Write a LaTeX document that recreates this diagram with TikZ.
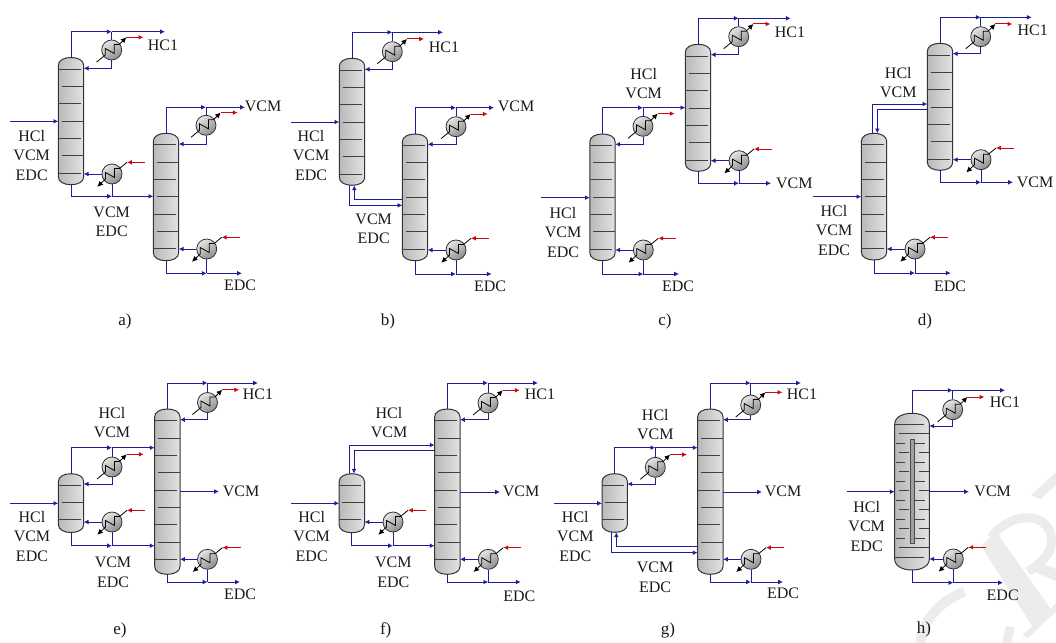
\documentclass[tikz,border=0pt]{standalone}
\usepackage{fontspec}
\setmainfont{Liberation Serif}
\usetikzlibrary{arrows.meta,calc}
\definecolor{strmblue}{RGB}{30,30,155}
\definecolor{hotred}{RGB}{200,10,20}
\definecolor{wm}{RGB}{236,236,236}
\newcounter{lblc}
\tikzset{
  strm/.style={draw=strmblue,line width=1pt},
  tipped/.style={-{Latex[length=4.8pt,width=4.8pt]}},
  redl/.style={draw=hotred,line width=1pt,-{Latex[length=4.8pt,width=4.8pt]}},
  blk/.style={draw=black,line width=0.8pt},
  hx/.style={circle,draw=black!80,line width=0.8pt,minimum size=20pt,inner sep=0pt,top color=gray!20,bottom color=gray!90,shading angle=35},
  colbody/.style={draw=black!80,line width=1pt,left color=gray!55,right color=gray!22},
  tray/.style={draw=black!75,line width=0.95pt},
  lbl/.style={font=\fontsize{16}{16}\selectfont,inner sep=0pt,text=black!90},
  captxt/.style={font=\fontsize{17}{17}\selectfont,inner sep=0pt,text=black!90},
  wmark/.style={draw=wm,line width=10pt},
  wfill/.style={fill=wm,draw=none}
}
% #1 name, #2 cx, #3 top, #4 bottom, #5 half width, #6 head height
\newcommand\Shell[6]{%
  \path[colbody] (#2-#5,#3+#6) .. controls (#2-#5,#3+0.35*#6) and (#2-0.55*#5,#3) .. (#2,#3)
     .. controls (#2+0.55*#5,#3) and (#2+#5,#3+0.35*#6) .. (#2+#5,#3+#6)
     -- (#2+#5,#4-#6) .. controls (#2+#5,#4-0.35*#6) and (#2+0.55*#5,#4) .. (#2,#4)
     .. controls (#2-0.55*#5,#4) and (#2-#5,#4-0.35*#6) .. (#2-#5,#4-#6) -- cycle;
  \pgfmathsetmacro\ww{2*#5}\pgfmathsetmacro\hh{#4-#3}\pgfmathsetmacro\mm{(#3+#4)/2}
  \node[minimum width=\ww pt,minimum height=\hh pt,inner sep=0pt,outer sep=0pt] (#1) at (#2,\mm) {};
}
% #1 name, #2 cx, #3 top, #4 bottom, #5 number of trays, #6 first tray y
\newcommand\Col[6]{%
  \Shell{#1}{#2}{#3}{#4}{12.7}{8}
  \foreach \i in {1,...,#5}{
    \pgfmathsetmacro\ty{#6+17.33*(\i-1)}
    \pgfmathparse{int(mod(\i,2))}
    \ifnum\pgfmathresult=1
      \draw[tray] (#2-12.7,\ty) -- (#2+9.5,\ty);
    \else
      \draw[tray] (#2-9.5,\ty) -- (#2+12.7,\ty);
    \fi
  }
}
\newcommand\HXc[3]{%
  \node[hx] (#1) at (#2,#3) {};
  \coordinate (#1-in) at ($(#1)+(-15,12)$);
  \coordinate (#1-out) at ($(#1)+(14.7,-12.7)$);
  \coordinate (#1-red) at ($(#1)+(31.7,-12.7)$);
  \draw[blk,-{Latex[length=5.5pt,width=5.5pt]}] (#1-in) -- ($(#1)+(-6.5,5)$) -- ($(#1)+(-6.5,-1.5)$) -- ($(#1)+(2.5,3.5)$) -- ($(#1)+(2.5,-5.5)$) -- ($(#1)+(7.5,-5.5)$) -- (#1-out);
  \draw[redl] (#1-out) -- (#1-red);
}
\newcommand\HXr[3]{%
  \node[hx] (#1) at (#2,#3) {};
  \coordinate (#1-in) at ($(#1)+(15,-11.7)$);
  \coordinate (#1-out) at ($(#1)+(-14.7,12.7)$);
  \coordinate (#1-red) at ($(#1)+(33,-11.7)$);
  \draw[blk,-{Latex[length=5.5pt,width=5.5pt]}] (#1-in) -- ($(#1)+(7.5,-5.5)$) -- ($(#1)+(2.5,-5.5)$) -- ($(#1)+(2.5,3.5)$) -- ($(#1)+(-6.5,-1.5)$) -- ($(#1)+(-6.5,5)$) -- (#1-out);
  \draw[redl] (#1-red) -- (#1-in);
}
% overhead: #1 col, #2 hx, #3 line y, #4 return y, #5 end x
\newcommand\Over[5]{%
  \coordinate (#2-j) at (#2.north |- 0,#3);
  \coordinate (#2-e) at (#5,#3);
  \draw[strm,tipped] (#1.north) |- (#2-j);
  \draw[strm,tipped] (#2-j) -- (#2-e);
  \draw[strm] (#2-j) -- (#2.north);
  \coordinate (#2-r) at (#1.east |- 0,#4);
  \draw[strm,tipped] (#2.south) |- (#2-r);
}
% bottoms: #1 col, #2 hx, #3 line y, #4 end x
\newcommand\Under[4]{%
  \coordinate (#2-j) at (#2.south |- 0,#3);
  \coordinate (#2-e) at (#4,#3);
  \draw[strm,tipped] (#1.south) |- (#2-j);
  \draw[strm,tipped] (#2-j) -- (#2-e);
  \draw[strm] (#2-j) -- (#2.south);
  \draw[strm,tipped] (#2.west) -- (#1.east |- #2);
}
% feed: #1 col, #2 start x, #3 y
\newcommand\Feed[3]{%
  \coordinate (#1-f) at (#2,#3);
  \draw[strm,tipped] (#1-f) -- (#1.west |- #1-f);
}
% side draw: #1 col, #2 end x, #3 y
\newcommand\Side[3]{%
  \coordinate (#1-s) at (#2,#3);
  \draw[strm,tipped] (#1.east |- #1-s) -- (#1-s);
}
\newcommand\Tx[3]{\stepcounter{lblc}\node[lbl] (t\thelblc) at (#1,#2) {#3};}
\newcommand\Cp[3]{\stepcounter{lblc}\node[captxt] (t\thelblc) at (#1,#2+1.5) {#3};}
\newcommand\TTT[5]{\Tx{#1}{#2}{#3}\Tx{#1}{#2+19.7}{#4}\Tx{#1}{#2+39.4}{#5}}
\begin{document}
\begin{tikzpicture}[x=1pt,y=-1pt]
\useasboundingbox (0,0) rectangle (1056,642);
% faint background marks at the lower right corner
\begin{scope}
\clip (0,0) rectangle (1056,642);
\begin{scope}[shift={(916,460)},x=0.3333pt,y=-0.3333pt]
\fill[wfill] (345,105) -- (425,32) -- (425,72) -- (372,118) -- cycle;
\fill[wfill] (195,258) -- (240,215) -- (410,455) -- (350,500) -- cycle;
\fill[wfill] (320,525) -- (430,420) -- (430,445) -- (335,535) -- cycle;
\draw[wmark,line width=9pt] (225,232) .. controls (280,160) and (385,150) .. (405,225) .. controls (415,270) and (385,305) .. (335,335);
\draw[wmark,line width=11pt] (350,315) -- (430,350);
\draw[wmark] (12,560) .. controls (18,480) and (70,425) .. (145,395);
\draw[wmark,line width=9pt] (283,500) -- (270,560);
\end{scope}
\end{scope}
% ===== a
\Col{aA}{71}{57.5}{184.7}{7}{69.3}
\Col{aB}{166}{133.3}{260.7}{7}{144.7}
\HXc{aAc}{111.7}{50}
\HXr{aAr}{112}{174}
\HXc{aBc}{206}{125.3}
\HXr{aBr}{206.7}{249}
\Over{aA}{aAc}{31.7}{68.3}{165}
\Under{aA}{aAr}{196.3}{153.3}
\Over{aB}{aBc}{107.3}{144}{245}
\Under{aB}{aBr}{273.3}{242}
\Feed{aA}{10}{121.3}
\Tx{163}{45.5}{HC1}
\TTT{31.7}{135.7}{HCl}{VCM}{EDC}
\Tx{111.7}{212}{VCM}\Tx{111.7}{231}{EDC}
\Tx{263}{106}{VCM}\Tx{240}{285}{EDC}
\Cp{125}{320}{a)}
% ===== b
\Col{bA}{352}{58.3}{185.3}{7}{70}
\Col{bB}{415}{134}{260.7}{7}{145.3}
\HXc{bAc}{392.3}{51.7}
\HXc{bBc}{456}{126.7}
\HXr{bBr}{456}{250}
\Over{bA}{bAc}{32.3}{69.3}{443}
\Over{bB}{bBc}{107.7}{144.3}{494}
\Under{bB}{bBr}{274}{491.7}
\Feed{bA}{291}{122}
\coordinate (bOut) at (349.7,205.3);
\coordinate (bIn) at (354.3,199.3);
\draw[strm,tipped] ([xshift=-2.3pt]bA.south) |- (bB.west |- bOut);
\draw[strm,tipped] (bB.west |- bIn) -| ([xshift=2.3pt]bA.south);
\Tx{444}{47}{HC1}
\TTT{311}{135.7}{HCl}{VCM}{EDC}
\Tx{373.7}{219}{VCM}\Tx{373.7}{238}{EDC}
\Tx{516}{106.7}{VCM}\Tx{490}{286.7}{EDC}
\Cp{388}{320}{b)}
% ===== c
\Col{cA}{602.5}{134}{260.7}{7}{145.3}
\Col{cB}{698}{44.3}{171.3}{7}{56}
\HXc{cAc}{643}{126.3}
\HXr{cAr}{643.3}{250}
\HXc{cBc}{738.7}{36.7}
\HXr{cBr}{739}{160.7}
\Over{cA}{cAc}{107.7}{144.3}{685.3}
\Under{cA}{cAr}{274}{679}
\Over{cB}{cBc}{18.3}{54.7}{790.7}
\Under{cB}{cBr}{183.3}{771}
\Feed{cA}{541}{197.7}
\TTT{563}{212.7}{HCl}{VCM}{EDC}
\Tx{643.7}{74.3}{HCl}\Tx{643.7}{93.3}{VCM}
\Tx{790}{32}{HC1}\Tx{794.3}{183.3}{VCM}\Tx{678}{286.7}{EDC}
\Cp{665}{320}{c)}
% ===== d
\Col{dA}{874}{133.3}{260}{7}{144.7}
\Col{dB}{940}{43.3}{170.3}{7}{55}
\HXc{dBc}{980.7}{36.7}
\HXr{dAr}{915}{249}
\HXr{dBr}{981}{159.7}
\Over{dB}{dBc}{17.3}{53.7}{1031.7}
\Under{dB}{dBr}{182.3}{1013}
\Under{dA}{dAr}{273}{950.7}
\Feed{dA}{813.3}{196.7}
\coordinate (dOut) at (872.7,104);
\coordinate (dIn) at (877.3,109);
\draw[strm,tipped] ([xshift=-1.3pt]dA.north) |- (dB.west |- dOut);
\draw[strm,tipped] (dB.west |- dIn) -| ([xshift=3.3pt]dA.north);
\TTT{834}{210.7}{HCl}{VCM}{EDC}
\Tx{898.3}{72.7}{HCl}\Tx{898.3}{92.7}{VCM}
\Tx{1032.7}{30}{HC1}\Tx{1035}{182}{VCM}\Tx{950}{286.7}{EDC}
\Cp{925}{320}{d)}
% ===== e
\Col{eA}{71}{473.7}{532.5}{3}{485.3}
\Col{eB}{167.3}{409}{574.3}{9}{420.7}
\HXc{eAc}{112}{467}
\HXr{eAr}{112}{522}
\HXc{eBc}{207.5}{402.5}
\HXr{eBr}{207.5}{559.3}
\Over{eA}{eAc}{447.7}{484}{154.6}
\Under{eA}{eAr}{545.7}{154.6}
\Over{eB}{eBc}{383}{419.7}{258}
\Under{eB}{eBr}{582}{240}
\Side{eB}{219}{491.5}
\Feed{eA}{10}{503.3}
\TTT{32}{516.7}{HCl}{VCM}{EDC}
\Tx{112}{413.3}{HCl}\Tx{112}{432.8}{VCM}
\Tx{113}{562.5}{VCM}\Tx{113}{582}{EDC}
\Tx{258}{394}{HC1}\Tx{241}{491}{VCM}\Tx{240}{594}{EDC}
\Cp{120}{629}{e)}
% ===== f
\Col{fA}{351.8}{473.7}{532.7}{3}{485.3}
\Col{fB}{447.3}{409}{574.3}{9}{420.7}
\HXr{fAr}{393}{522}
\HXc{fBc}{488}{403}
\HXr{fBr}{488.3}{559.3}
\Under{fA}{fAr}{545.7}{434.6}
\Over{fB}{fBc}{383}{419.7}{538}
\Under{fB}{fBr}{582}{520.7}
\Side{fB}{500}{492}
\Feed{fA}{291}{503.3}
\coordinate (fOut) at (349.3,445);
\coordinate (fIn) at (354,450.3);
\draw[strm,tipped] ([xshift=-2.5pt]fA.north) |- (fB.west |- fOut);
\draw[strm,tipped] (fB.west |- fIn) -| ([xshift=2.2pt]fA.north);
\TTT{311.7}{516.7}{HCl}{VCM}{EDC}
\Tx{389}{413.3}{HCl}\Tx{389}{432.3}{VCM}
\Tx{393.3}{562.7}{VCM}\Tx{393.3}{582}{EDC}
\Tx{540}{394}{HC1}\Tx{521}{491}{VCM}\Tx{519.3}{596}{EDC}
\Cp{385.7}{629}{f)}
% ===== g
\Col{gA}{614.7}{473.7}{532.3}{3}{485.3}
\Col{gB}{710.3}{409}{574.3}{9}{420.7}
\HXc{gAc}{655.3}{467.3}
\HXc{gBc}{750.7}{405}
\HXr{gBr}{751}{559.3}
\Over{gA}{gAc}{447.7}{484}{697.6}
\Over{gB}{gBc}{383}{419.7}{801}
\Under{gB}{gBr}{582}{783}
\Side{gB}{762}{492}
\Feed{gA}{554}{503.3}
\coordinate (gOut) at (611.3,552.7);
\coordinate (gIn) at (616.3,546.7);
\draw[strm,tipped] ([xshift=-3.4pt]gA.south) |- (gB.west |- gOut);
\draw[strm,tipped] (gB.west |- gIn) -| ([xshift=1.6pt]gA.south);
\TTT{575.3}{516.7}{HCl}{VCM}{EDC}
\Tx{655.3}{415.3}{HCl}\Tx{655.3}{434.7}{VCM}
\Tx{655}{567.7}{VCM}\Tx{655}{587}{EDC}
\Tx{802}{394}{HC1}\Tx{783}{491}{VCM}\Tx{783}{593}{EDC}
\Cp{668}{629}{g)}
% ===== h
\Shell{hA}{912}{413.3}{570}{17.3}{11}
\foreach \i in {0,1,13,14}{
  \pgfmathsetmacro\ty{424.3+9.5*\i}
  \pgfmathparse{int(mod(\i,2))}
  \ifnum\pgfmathresult=0 \draw[tray] (894.7,\ty) -- (924,\ty);
  \else \draw[tray] (899,\ty) -- (929.3,\ty); \fi
}
\foreach \i in {2,...,12}{
  \pgfmathsetmacro\ty{424.3+9.5*\i}
  \pgfmathparse{int(mod(\i,2))}
  \ifnum\pgfmathresult=0
    \draw[tray] (895.7,\ty) -- (905,\ty); \draw[tray] (915,\ty) -- (925,\ty);
  \else
    \draw[tray] (899,\ty) -- (909,\ty); \draw[tray] (918.5,\ty) -- (929.3,\ty);
  \fi
}
\node[draw=black!70,fill=gray!75,line width=0.6pt,minimum width=4.3pt,minimum height=104.4pt,inner sep=0pt] (hWall) at (912.1,491.5) {};
\HXc{hAc}{952.7}{409.7}
\HXr{hAr}{953.3}{559}
\Over{hA}{hAc}{390.3}{426}{1005}
\Under{hA}{hAr}{582.7}{1003}
\Side{hA}{969}{491.7}
\Feed{hA}{846.7}{491.7}
\TTT{866.7}{506.7}{HCl}{VCM}{EDC}
\Tx{1005}{402}{HC1}\Tx{992.7}{491}{VCM}\Tx{1002.7}{595}{EDC}
\Cp{924}{628}{h)}
\end{tikzpicture}
\end{document}
